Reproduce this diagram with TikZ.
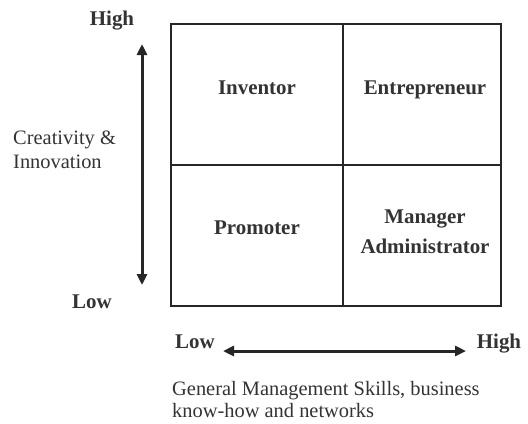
\documentclass[tikz,border=0pt]{standalone}
\usepackage{fontspec}
\setmainfont{Liberation Serif}
\usetikzlibrary{arrows.meta}
\definecolor{ink}{HTML}{333333}
\begin{document}
\begin{tikzpicture}[x=1bp,y=-1bp,
  lbl/.style={font=\fontsize{21}{30}\selectfont\bfseries, text=ink, inner sep=0pt},
  axlbl/.style={font=\fontsize{20.5}{24}\selectfont, text=ink, inner sep=0pt, align=left},
  axarrow/.style={line width=3bp, draw=black!85, {Triangle[length=11bp,width=10bp]}-{Triangle[length=11bp,width=10bp]}},
  cell/.style={draw=black!85, line width=1.3bp}]
\useasboundingbox (0,0) rectangle (528,423);
% grid
\draw[cell] (171,24) rectangle (501,306);
\draw[cell] (343,24) -- (343,306);
\draw[cell] (171,165) -- (501,165);
% cell labels
\node[lbl, anchor=base] (inv) at (257,94) {Inventor};
\node[lbl, anchor=base] (ent) at (425,94) {Entrepreneur};
\node[lbl, anchor=base] (pro) at (257,234) {Promoter};
\node[lbl, align=center] (man) at (425,232) {Manager\\Administrator};
% vertical axis
\node[lbl, anchor=base] (vhigh) at (112,25) {High};
\node[lbl, anchor=base] (vlow) at (92,308) {Low};
\coordinate (vtop) at (142,44);
\coordinate (vbot) at (142,285);
\draw[axarrow] (vtop) -- (vbot);
\node[axlbl, anchor=west] (cre) at (13,150) {Creativity \&\\Innovation};
% horizontal axis
\node[lbl, anchor=base] (hlow) at (195,348) {Low};
\node[lbl, anchor=base] (hhigh) at (499,348) {High};
\coordinate (hl) at (223,351);
\coordinate (hr) at (466,351);
\draw[axarrow] (hl) -- (hr);
\node[axlbl, anchor=north west, font=\fontsize{20.5}{22}\selectfont] (gen) at (172,381) {General Management Skills, business\\know-how and networks};
\end{tikzpicture}
\end{document}
